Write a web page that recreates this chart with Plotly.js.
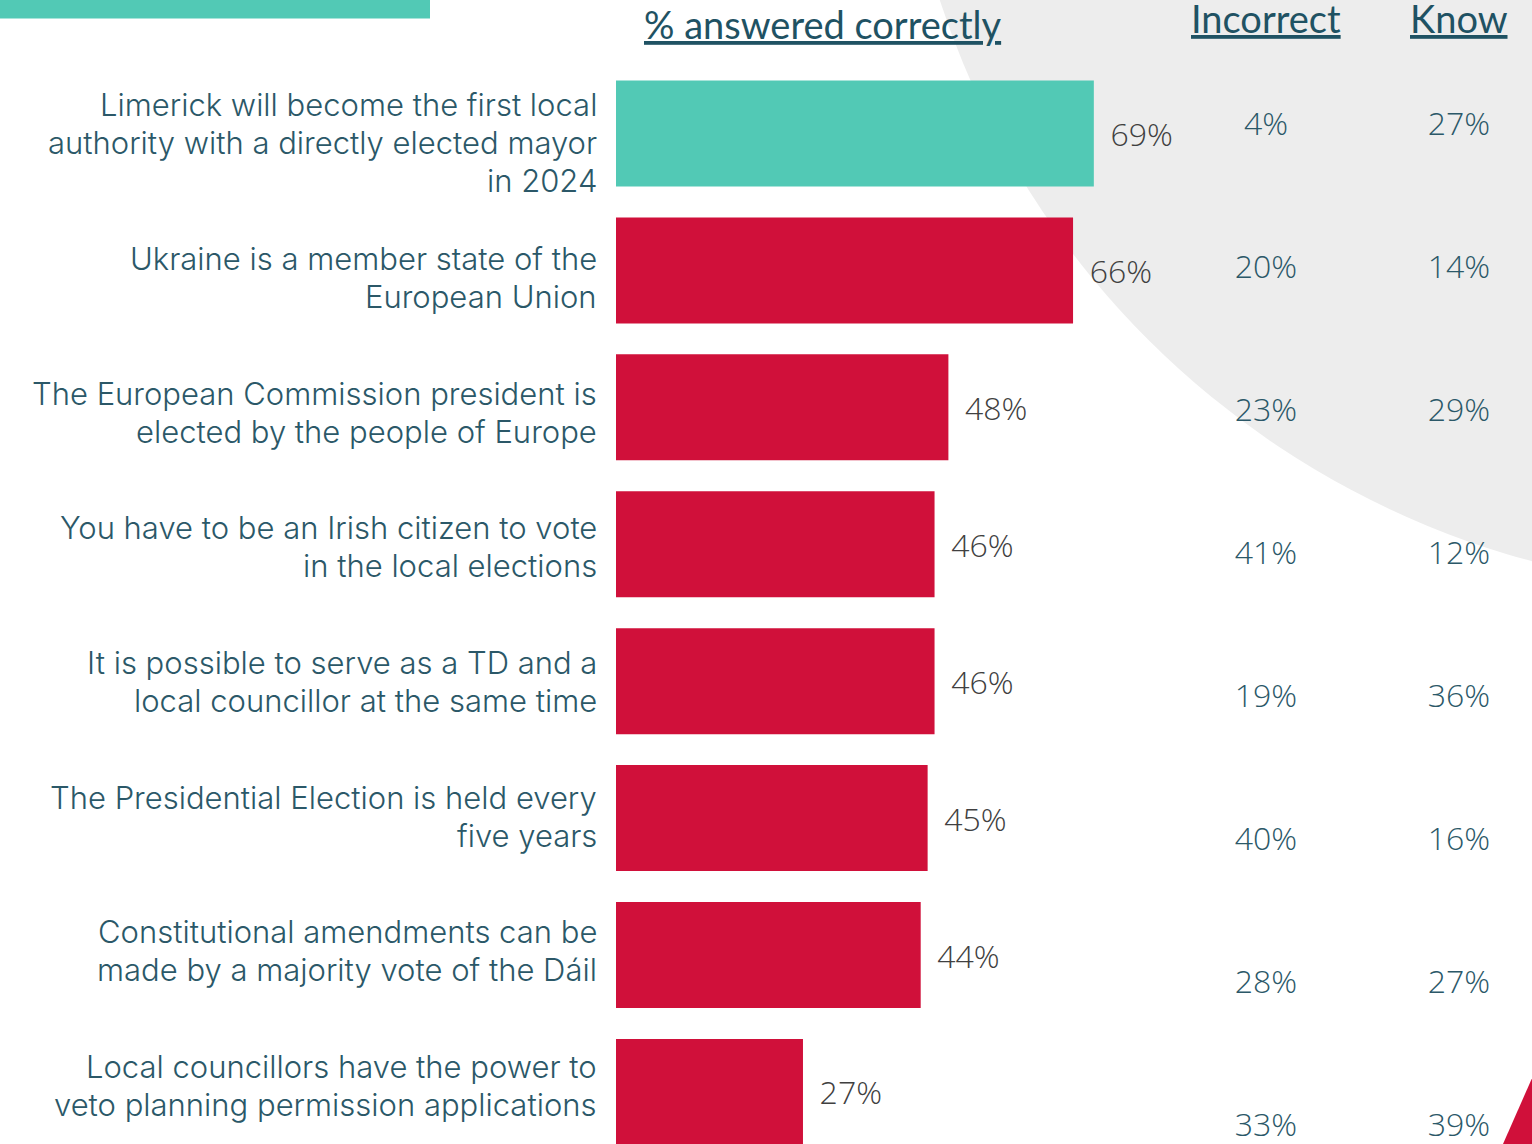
<!DOCTYPE html>
<html>
<head>
<meta charset="utf-8">
<script src="https://cdn.plot.ly/plotly-3.0.1.min.js"></script>
<style>html,body{margin:0;padding:0;background:#fff;} #chart{width:1532px;height:1144px;}</style>
</head>
<body>
<div id="chart"></div>
<script>
// ---- data ----
const questions = [
  "Limerick will become the first local<br>authority with a directly elected mayor<br>in 2024",
  "Ukraine is a member state of the<br>European Union",
  "The European Commission president is<br>elected by the people of Europe",
  "You have to be an Irish citizen to vote<br>in the local elections",
  "It is possible to serve as a TD and a<br>local councillor at the same time",
  "The Presidential Election is held every<br>five years",
  "Constitutional amendments can be<br>made by a majority vote of the Dáil",
  "Local councillors have the power to<br>veto planning permission applications"
];
const correct   = [69, 66, 48, 46, 46, 45, 44, 27];
const incorrect = [4, 20, 23, 41, 19, 40, 28, 33];
const dontKnow  = [27, 14, 29, 12, 36, 16, 27, 39];
const headers = ["% answered correctly", "Incorrect", "Know"];

// ---- layout helpers ----
const W = 1532, H = 1144;
const M = {l: 616, r: 0, t: 64.5, b: 0};
const pw = W - M.l - M.r, ph = H - M.t - M.b;
const px = x => (x - M.l) / pw;
const py = y => (H - M.b - y) / ph;
const pxPerPct = 6.925;
const xMax = pw / pxPerPct;
const toData = x => (x - M.l) / pxPerPct;

const teal = "#52c9b5", red = "#d0103a";
const labelColor = "#2b5868";
const FONT = "'Open Sans', Lato, sans-serif";
const LFONT = "Inter, 'Open Sans', sans-serif";
const HFONT = "Lato, 'Open Sans', sans-serif";
const LINE_GAP = 38;

const barColors = correct.map((v, i) => i === 0 ? teal : red);

const traces = [
  {
    type: "bar", orientation: "h",
    x: correct, y: questions,
    marker: {color: barColors},
    texttemplate: "\u00a0\u2009%{x}%",
    textposition: "outside",
    cliponaxis: false,
    textfont: {family: FONT, size: 32, color: "#404040", weight: 300},
    hoverinfo: "skip"
  },
  {
    type: "scatter", mode: "text", yaxis: "y2",
    x: incorrect.map(() => toData(1266)), y: questions,
    text: incorrect.map(v => v + "%"),
    textposition: "middle center",
    cliponaxis: false,
    textfont: {family: FONT, size: 32, color: labelColor, weight: 300},
    hoverinfo: "skip"
  },
  {
    type: "scatter", mode: "text", yaxis: "y2",
    x: dontKnow.map(() => toData(1459)), y: questions,
    text: dontKnow.map(v => v + "%"),
    textposition: "middle center",
    cliponaxis: false,
    textfont: {family: FONT, size: 32, color: labelColor, weight: 300},
    hoverinfo: "skip"
  }
];

// question labels, right-aligned left of the bars, one annotation per text line
const questionAnnotations = [];
questions.forEach((q, i) => {
  const lines = q.split("<br>");
  lines.forEach((ln, k) => {
    questionAnnotations.push({
      text: ln, xref: "paper", yref: "y3", x: px(598), y: i,
      yshift: ((lines.length - 1) / 2 - k) * LINE_GAP,
      xanchor: "right", yanchor: "middle", align: "right", showarrow: false,
      borderpad: 0,
      font: {family: LFONT, size: 31, color: labelColor, weight: 300}
    });
  });
});

const layout = {
  width: W, height: H, autosize: false,
  margin: M,
  paper_bgcolor: "rgba(0,0,0,0)", plot_bgcolor: "rgba(0,0,0,0)",
  showlegend: false,
  bargap: 0.226,
  xaxis: {range: [0, xMax], visible: false, fixedrange: true},
  yaxis: {
    type: "category", categoryarray: questions, range: [7.38, -0.5],
    showgrid: false, zeroline: false, showline: false, ticks: "",
    showticklabels: false
  },
  yaxis2: {
    type: "category", categoryarray: questions, overlaying: "y",
    range: [7.112, -0.437], visible: false
  },
  yaxis3: {
    type: "linear", overlaying: "y",
    range: [7.435, -0.579], visible: false
  },
  shapes: [
    {type: "circle", xref: "paper", yref: "paper", layer: "below",
     x0: px(898), x1: px(2612), y0: py(590.4), y1: py(-1118),
     fillcolor: "#ededed", line: {width: 0}},
    {type: "rect", xref: "paper", yref: "paper", layer: "above",
     x0: px(-5), x1: px(430), y0: py(18), y1: py(-5),
     fillcolor: teal, line: {width: 0}},
    {type: "path", xref: "paper", yref: "paper", layer: "above",
     path: `M ${px(1540)} ${py(1060)} L ${px(1503)} ${py(1144)} L ${px(1540)} ${py(1144)} Z`,
     fillcolor: red, line: {width: 0}}
  ],
  annotations: [
    {text: "<u>" + headers[0] + "</u>", xref: "paper", yref: "paper",
     x: px(823), y: py(23), xanchor: "center", yanchor: "middle", showarrow: false,
     font: {family: HFONT, size: 38, color: "#1f5263"}},
    {text: "<u>" + headers[1] + "</u>", xref: "paper", yref: "paper",
     x: px(1266), y: py(17), xanchor: "center", yanchor: "middle", showarrow: false,
     font: {family: HFONT, size: 38, color: "#1f5263"}},
    {text: "<u>" + headers[2] + "</u>", xref: "paper", yref: "paper",
     x: px(1459), y: py(17), xanchor: "center", yanchor: "middle", showarrow: false,
     font: {family: HFONT, size: 38, color: "#1f5263"}}
  ].concat(questionAnnotations)
};

Plotly.newPlot("chart", traces, layout, {displayModeBar: false, staticPlot: true});
</script>
</body>
</html>
